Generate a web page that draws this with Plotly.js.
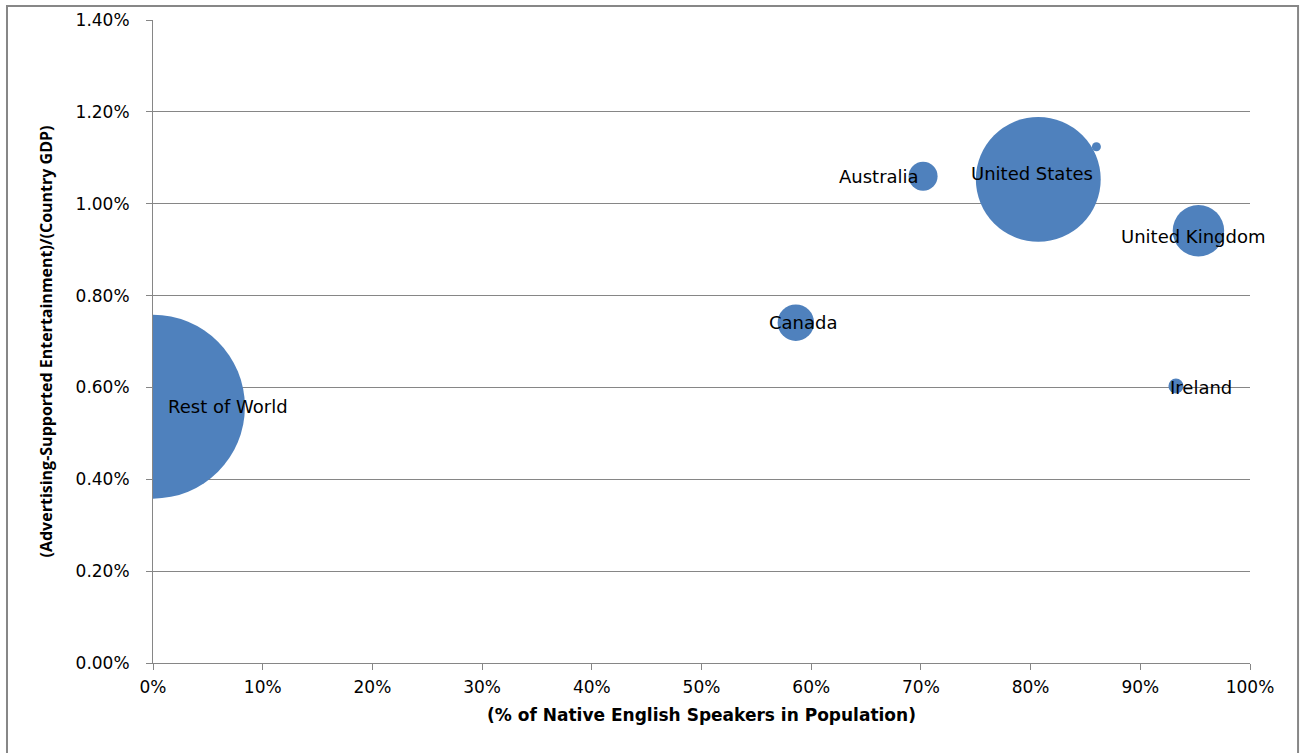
<!DOCTYPE html>
<html>
<head>
<meta charset="utf-8">
<script src="https://cdn.plot.ly/plotly-3.0.1.min.js"></script>
<style>html,body{margin:0;padding:0;background:#fff;}#chart{width:1304px;height:753px;}</style>
</head>
<body>
<div id="chart"></div>
<script>
// Data
var countries = ["Rest of World", "Australia", "United States", "", "United Kingdom", "Canada", "Ireland"];
var nativeEnglishShare = [0.000, 0.702, 0.807, 0.860, 0.953, 0.586, 0.9325];          // x (fraction)
var adEntertainmentShareGDP = [0.00558, 0.01060, 0.01053, 0.01124, 0.00941, 0.00741, 0.00603]; // y (fraction)
var bubbleSize = [338, 8.4, 156, 0.81, 26.5, 13.3, 2.25];                              // third variable (relative)
var xTickVals = [0, 0.1, 0.2, 0.3, 0.4, 0.5, 0.6, 0.7, 0.8, 0.9, 1.0];
var yTickVals = [0, 0.002, 0.004, 0.006, 0.008, 0.010, 0.012, 0.014];

// label placement (style only)
var labelAnchor = ["left", "right", "center", "center", "center", "center", "left"];
var labelXShift = [13, -2, -6, 0, -5, 8, -8];
var labelYShift = [0, 0, 6, 0, -6, 0, -1];

var fontFam = "DejaVu Sans, Liberation Sans, sans-serif";

var trace = {
  type: "scatter",
  mode: "markers",
  x: nativeEnglishShare,
  y: adEntertainmentShareGDP,
  text: countries,
  hoverinfo: "text+x+y",
  cliponaxis: true,
  marker: {
    size: bubbleSize,
    sizemode: "area",
    sizeref: 0.02,
    color: "#4F81BD",
    opacity: 1,
    line: {width: 0}
  },
  showlegend: false
};

var annotations = countries.map(function (c, i) {
  return {
    x: nativeEnglishShare[i], y: adEntertainmentShareGDP[i],
    xref: "x", yref: "y", text: c, showarrow: false,
    xanchor: labelAnchor[i], yanchor: "middle",
    xshift: labelXShift[i], yshift: labelYShift[i],
    font: {family: fontFam, size: 18, color: "#000"}
  };
}).filter(function (a) { return a.text !== ""; });

var layout = {
  width: 1304, height: 753,
  margin: {l: 153, r: 54, t: 20, b: 90},
  paper_bgcolor: "#ffffff",
  plot_bgcolor: "#ffffff",
  font: {family: fontFam, size: 16, color: "#000"},
  xaxis: {
    range: [0, 1],
    tickvals: xTickVals,
    tickformat: ".0%",
    showgrid: false,
    zeroline: false,
    showline: true, linecolor: "#868686", linewidth: 1,
    ticks: "outside", ticklen: 6, tickcolor: "#868686",
    ticklabelstandoff: 3,
    tickfont: {family: fontFam, size: 17, color: "#000"},
    title: {text: "<b>(% of Native English Speakers in Population)</b>", font: {family: fontFam, size: 17, color: "#000"}, standoff: 12}
  },
  yaxis: {
    range: [0, 0.014],
    tickvals: yTickVals,
    tickformat: ".2%",
    showgrid: true, gridcolor: "#868686", gridwidth: 1,
    zeroline: false,
    showline: true, linecolor: "#868686", linewidth: 1,
    ticks: "outside", ticklen: 6, tickcolor: "#868686",
    ticklabelstandoff: 13,
    tickfont: {family: fontFam, size: 17, color: "#000"},
    title: {text: "<b>(Advertising-Supported Entertainment)/(Country GDP)</b>", font: {family: "Open Sans, DejaVu Sans, sans-serif", size: 16, color: "#000"}, standoff: 18}
  },
  annotations: annotations,
  shapes: [{
    type: "rect", xref: "paper", yref: "paper",
    x0: -0.1331, x1: 1.0438, y0: -0.2, y1: 1.0218,
    line: {color: "#878787", width: 2}, fillcolor: "rgba(0,0,0,0)", layer: "below"
  }]
};

Plotly.newPlot("chart", [trace], layout, {displayModeBar: false, staticPlot: true});
</script>
</body>
</html>
